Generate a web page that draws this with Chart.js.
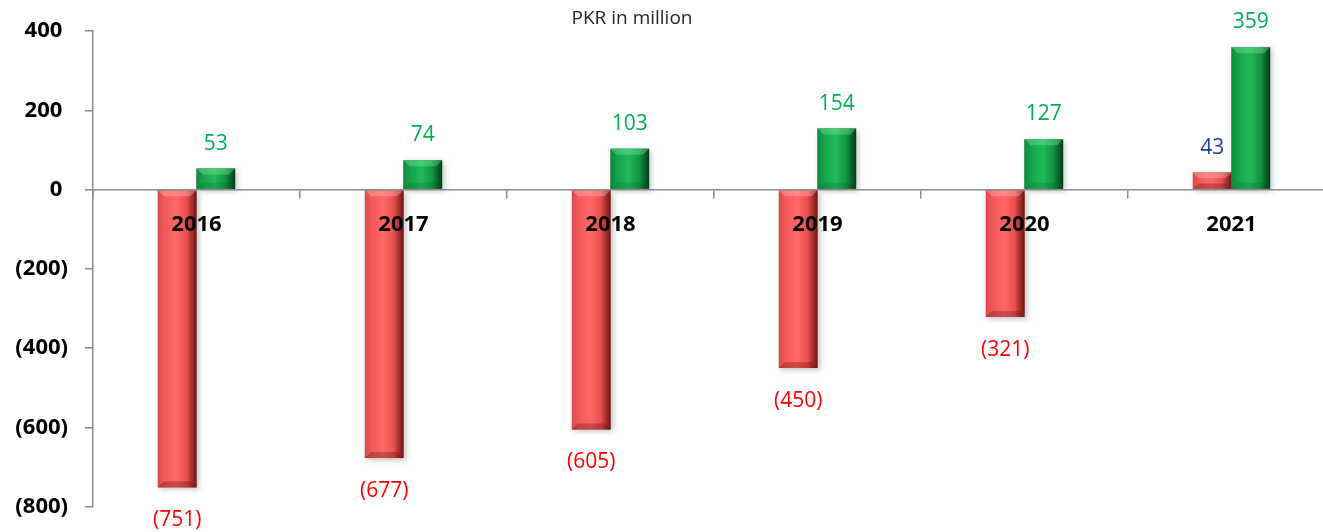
<!DOCTYPE html>
<html>
<head>
<meta charset="utf-8">
<script src="https://cdn.jsdelivr.net/npm/chart.js@4/dist/chart.umd.min.js"></script>
<style>
  html, body { margin: 0; padding: 0; background: #ffffff; overflow: hidden; }
  #wrap { width: 1323px; height: 532px; position: relative; overflow: hidden; }
  #c { position: absolute; left: 0; top: 0; }
</style>
</head>
<body>
<div id="wrap"><canvas id="c" width="1335" height="537"></canvas></div>
<script>
const categories = ['2016', '2017', '2018', '2019', '2020', '2021'];
const redSeries = [-751, -677, -605, -450, -321, 43];
const greenSeries = [53, 74, 103, 154, 127, 359];
const yTickValues = [400, 200, 0, -200, -400, -600, -800];
const titleText = 'PKR in million';

const FONT = "'Open Sans', 'Liberation Sans', sans-serif";

function fmt(v) {
  return v < 0 ? '(' + Math.abs(v) + ')' : String(v);
}

const palettes = {
  0: { stops: [[0, '#d84a4a'], [0.18, '#f25a5a'], [0.48, '#ff6666'], [0.75, '#e84f4f'], [0.9, '#a02a2a'], [1, '#6e1616']],
       top: 'rgba(255,200,200,0.35)', bottom: 'rgba(90,10,10,0.30)' },
  1: { stops: [[0, '#0f8c3d'], [0.2, '#16a64b'], [0.48, '#20b857'], [0.75, '#119440'], [0.9, '#085d26'], [1, '#043f18']],
       top: 'rgba(140,240,170,0.35)', bottom: 'rgba(0,40,10,0.12)' }
};

const barStyler = {
  id: 'barStyler',
  afterDatasetsDraw(chart) {
    const ctx = chart.ctx;
    const rects = [];
    chart.data.datasets.forEach((ds, di) => {
      const meta = chart.getDatasetMeta(di);
      meta.data.forEach((el) => {
        const p = el.getProps(['x', 'y', 'base', 'width'], true);
        const left = p.x - p.width / 2;
        const top = Math.min(p.y, p.base);
        const h = Math.abs(p.base - p.y);
        rects.push({ di, left, top, w: p.width, h });
      });
    });
    ctx.save();
    rects.forEach(r => {
      ctx.save();
      ctx.shadowColor = 'rgba(0,0,0,0.25)';
      ctx.shadowBlur = 6;
      ctx.shadowOffsetX = 2;
      ctx.shadowOffsetY = 2;
      ctx.fillStyle = '#888';
      ctx.fillRect(r.left, r.top, r.w, r.h);
      ctx.restore();
    });
    rects.forEach(r => {
      const pal = palettes[r.di];
      const g = ctx.createLinearGradient(r.left, 0, r.left + r.w, 0);
      pal.stops.forEach(s => g.addColorStop(s[0], s[1]));
      ctx.fillStyle = g;
      ctx.fillRect(r.left, r.top, r.w, r.h);
      const d = Math.min(6, r.h / 3);
      ctx.fillStyle = pal.top;
      ctx.beginPath();
      ctx.moveTo(r.left, r.top);
      ctx.lineTo(r.left + r.w, r.top);
      ctx.lineTo(r.left + r.w - d, r.top + d);
      ctx.lineTo(r.left + d, r.top + d);
      ctx.closePath();
      ctx.fill();
      ctx.fillStyle = pal.bottom;
      ctx.beginPath();
      ctx.moveTo(r.left, r.top + r.h);
      ctx.lineTo(r.left + r.w, r.top + r.h);
      ctx.lineTo(r.left + r.w - d, r.top + r.h - d);
      ctx.lineTo(r.left + d, r.top + r.h - d);
      ctx.closePath();
      ctx.fill();
    });
    ctx.restore();
  }
};

const valueLabels = {
  id: 'valueLabels',
  afterDatasetsDraw(chart) {
    const ctx = chart.ctx;
    ctx.save();
    ctx.font = '400 21px ' + FONT;
    ctx.textAlign = 'center';
    ctx.textBaseline = 'alphabetic';
    chart.data.datasets.forEach((ds, di) => {
      const meta = chart.getDatasetMeta(di);
      meta.data.forEach((el, i) => {
        const v = ds.data[i];
        const p = el.getProps(['x', 'y', 'base'], true);
        let color;
        if (di === 1) color = '#00B050';
        else color = v < 0 ? '#FF0000' : '#1F3F9F';
        ctx.fillStyle = color;
        const y = v < 0 ? p.y + 39 : p.y - 19;
        ctx.fillText(fmt(v), p.x, y);
      });
    });
    ctx.restore();
  }
};

const titleDrawer = {
  id: 'titleDrawer',
  afterDraw(chart) {
    const ctx = chart.ctx;
    ctx.save();
    ctx.font = '400 19px ' + FONT;
    ctx.fillStyle = '#262626';
    ctx.textAlign = 'center';
    ctx.textBaseline = 'alphabetic';
    ctx.fillText(titleText, 632, 24);
    ctx.restore();
  }
};

new Chart(document.getElementById('c'), {
  type: 'bar',
  data: {
    labels: categories,
    datasets: [
      { label: 'Red', data: redSeries, backgroundColor: '#f25a5a', borderWidth: 0,
        categoryPercentage: 0.373, barPercentage: 1.0 },
      { label: 'Green', data: greenSeries, backgroundColor: '#16a64b', borderWidth: 0,
        categoryPercentage: 0.373, barPercentage: 1.0 }
    ]
  },
  options: {
    responsive: false,
    animation: false,
    devicePixelRatio: 1,
    layout: { padding: { left: 0, top: 31, right: 0, bottom: 25 } },
    plugins: {
      legend: { display: false },
      title: { display: false },
      tooltip: { enabled: false }
    },
    scales: {
      x: {
        type: 'category',
        position: { y: 0 },
        offset: true,
        afterFit: (s) => { s.height = 0; },
        grid: { display: true, drawOnChartArea: false, drawTicks: true, tickLength: 8, color: '#8c8c8c', lineWidth: 1.5, offset: true, z: 1 },
        border: { display: true, color: '#8c8c8c', width: 1.5, z: 1 },
        ticks: { color: '#000', font: { family: FONT, size: 22, weight: '700' }, padding: 14, maxRotation: 0, z: 1 }
      },
      y: {
        min: yTickValues[yTickValues.length - 1],
        max: yTickValues[0],
        afterBuildTicks: (s) => { s.ticks = yTickValues.map(v => ({ value: v })); },
        afterFit: (s) => { s.width = 93; },
        grid: { display: true, drawOnChartArea: false, drawTicks: true, tickLength: 8, color: '#8c8c8c', lineWidth: 1.5 },
        border: { display: true, color: '#8c8c8c', width: 1.5 },
        ticks: {
          color: '#000',
          font: { family: FONT, size: 22, weight: '700' },
          padding: 17,
          callback: (v) => v < 0 ? '(' + Math.abs(v) + ')' : v + ' '
        }
      }
    }
  },
  plugins: [barStyler, valueLabels, titleDrawer]
});
</script>
</body>
</html>
